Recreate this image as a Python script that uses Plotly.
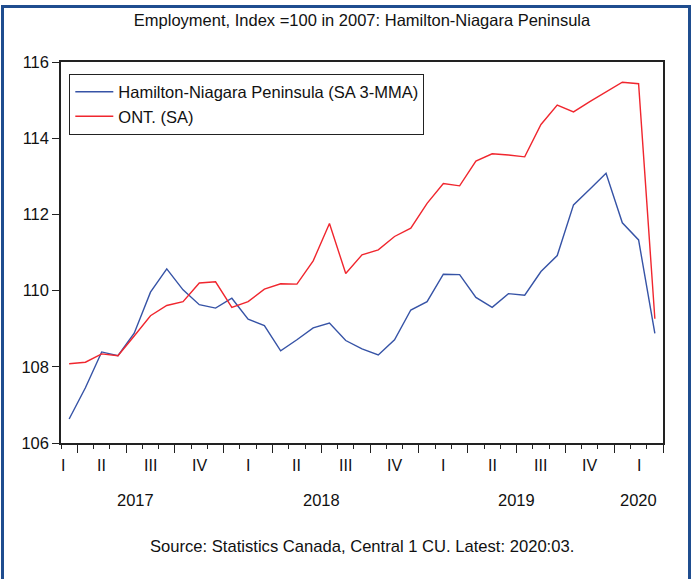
import plotly.graph_objects as go

# Monthly employment index (2007 = 100), March 2017 to March 2020
months = [
    "2017-03", "2017-04", "2017-05", "2017-06", "2017-07", "2017-08", "2017-09",
    "2017-10", "2017-11", "2017-12",
    "2018-01", "2018-02", "2018-03", "2018-04", "2018-05", "2018-06", "2018-07",
    "2018-08", "2018-09", "2018-10", "2018-11", "2018-12",
    "2019-01", "2019-02", "2019-03", "2019-04", "2019-05", "2019-06", "2019-07",
    "2019-08", "2019-09", "2019-10", "2019-11", "2019-12",
    "2020-01", "2020-02", "2020-03",
]
hamilton = [
    106.63, 107.45, 108.39, 108.29, 108.88, 109.96, 110.57, 110.02, 109.63, 109.54,
    109.80, 109.25, 109.08, 108.42, 108.71, 109.02, 109.15, 108.69, 108.47, 108.31,
    108.71, 109.49, 109.71, 110.43, 110.42, 109.82, 109.56, 109.92, 109.88, 110.50,
    110.92, 112.25, 112.66, 113.08, 111.78, 111.33, 108.88,
]
ontario = [
    108.08, 108.12, 108.34, 108.29, 108.81, 109.34, 109.61, 109.71, 110.20, 110.23,
    109.56, 109.71, 110.04, 110.18, 110.17, 110.78, 111.76, 110.45, 110.94, 111.07,
    111.42, 111.64, 112.29, 112.81, 112.75, 113.40, 113.59, 113.56, 113.51, 114.36,
    114.87, 114.69, 114.96, 115.22, 115.47, 115.43, 109.26,
]
quarter_names = ["I", "II", "III", "IV"]
y_ticks = [106, 108, 110, 112, 114, 116]

idx = list(range(len(months)))
years = [int(m[:4]) for m in months]
mons = [int(m[5:]) for m in months]

fig = go.Figure()
fig.add_trace(go.Scatter(x=idx, y=hamilton, mode="lines",
                         name="Hamilton-Niagara Peninsula (SA 3-MMA)",
                         line=dict(color="#3653a6", width=1.4)))
fig.add_trace(go.Scatter(x=idx, y=ontario, mode="lines", name="ONT. (SA)",
                         line=dict(color="#f0262e", width=1.4)))

font_family = "Liberation Sans, Arial, sans-serif"
annotations = []

# Quarter labels centred under the months of each quarter (clamped to the axis)
x_lo, x_hi = -0.5, len(months) - 0.5
quarters = {}
for i, (y, m) in enumerate(zip(years, mons)):
    q = (m - 1) // 3
    quarters.setdefault((y, q), []).append(i)
for (y, q), members in quarters.items():
    first_month = members[0] - ((mons[members[0]] - 1) % 3)
    centre = first_month + 1
    pos = max(centre, x_lo + 0.1)
    annotations.append(dict(x=pos, y=-0.059, xref="x", yref="paper",
                            text=quarter_names[q], showarrow=False,
                            font=dict(size=16, color="#111", family=font_family),
                            xanchor="center", yanchor="middle"))

# Year labels centred under the visible months of each year
for yr in sorted(set(years)):
    members = [i for i, y in enumerate(years) if y == yr]
    pos = sum(members) / len(members)
    if yr == years[0]:
        pos -= 0.4
    annotations.append(dict(x=pos, y=-0.149, xref="x", yref="paper",
                            text=str(yr), showarrow=False,
                            font=dict(size=16.5, color="#111", family=font_family),
                            xanchor="center", yanchor="middle"))

annotations.append(dict(x=0.5, y=-0.272, xref="paper", yref="paper",
                        text="Source: Statistics Canada, Central 1 CU. Latest: 2020:03.",
                        showarrow=False,
                        font=dict(size=16.6, color="#111", family=font_family),
                        xanchor="center", yanchor="middle"))

fig.update_layout(
    width=691, height=579,
    margin=dict(l=61, r=28, t=62, b=136),
    paper_bgcolor="white", plot_bgcolor="white",
    font=dict(family=font_family, color="#111"),
    title=dict(text="Employment, Index =100 in 2007: Hamilton-Niagara Peninsula",
               x=0.5, xref="paper", y=1 - 20 / 579, yanchor="middle",
               font=dict(size=16.5, color="#111", family=font_family)),
    showlegend=True,
    legend=dict(x=0.0138, y=0.9696, xanchor="left", yanchor="top",
                bordercolor="#222", borderwidth=1, bgcolor="white",
                font=dict(size=16.5, color="#111", family=font_family),
                itemwidth=38, tracegroupgap=0),
    annotations=annotations,
    shapes=[dict(type="rect", xref="paper", yref="paper",
                 x0=(2.5 - 61) / 602, x1=(689.5 - 61) / 602,
                 y0=-0.40, y1=(443.3 - 6) / 381.6,
                 line=dict(color="#1f4d8f", width=3), layer="below")],
)

fig.update_xaxes(range=[x_lo, x_hi], showgrid=False, zeroline=False,
                 showline=True, linecolor="#222", linewidth=1.5, mirror=True,
                 tickmode="linear", tick0=0.5, dtick=3, ticks="outside",
                 ticklen=8, tickwidth=1.2, tickcolor="#222",
                 showticklabels=False,
                 minor=dict(tick0=-0.5, dtick=1, ticks="outside", ticklen=4,
                            tickwidth=1.2, tickcolor="#222", showgrid=False))
fig.update_yaxes(range=[106, 116], tickvals=y_ticks, showgrid=False, zeroline=False,
                 showline=True, linecolor="#222", linewidth=1.5, mirror=True,
                 ticks="outside", ticklen=7, tickwidth=1.2, tickcolor="#222",
                 tickfont=dict(size=16.5, color="#111", family=font_family))

fig.write_html("out.html")
